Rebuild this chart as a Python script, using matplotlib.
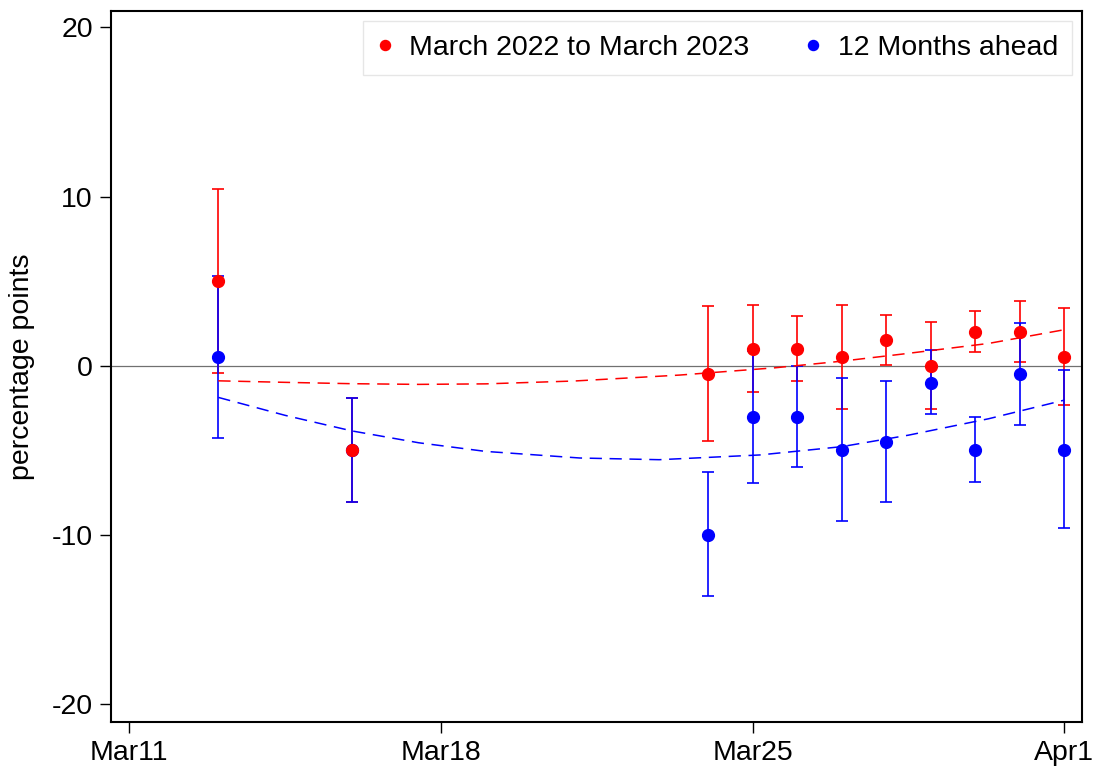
import matplotlib
matplotlib.use("Agg")
import matplotlib.pyplot as plt
import matplotlib.dates as mdates
import numpy as np

plt.rcParams['font.family'] = ['Liberation Sans', 'DejaVu Sans']
plt.rcParams['axes.unicode_minus'] = False

# survey days
dates = np.array(['2022-03-13', '2022-03-16', '2022-03-24', '2022-03-25', '2022-03-26',
                  '2022-03-27', '2022-03-28', '2022-03-29', '2022-03-30', '2022-03-31',
                  '2022-04-01'], dtype='datetime64[D]')

# March 2022 to March 2023 (red)
red_val = [5, -5, -0.5, 1, 1, 0.5, 1.5, 0, 2, 2, 0.5]
red_lo = [-0.4, -8.05, -4.45, -1.55, -0.92, -2.53, 0.02, -2.53, 0.82, 0.25, -2.33]
red_hi = [10.45, -1.9, 3.51, 3.59, 2.96, 3.59, 3.02, 2.59, 3.24, 3.8, 3.39]

# 12 Months ahead (blue)
blue_val = [0.5, -5, -10, -3, -3, -5, -4.5, -1, -5, -0.5, -5]
blue_lo = [-4.25, -8.05, -13.6, -6.9, -5.96, -9.16, -8.03, -2.86, -6.88, -3.49, -9.6]
blue_hi = [5.3, -1.9, -6.3, 0.9, 0.0, -0.73, -0.9, 0.94, -3.02, 2.55, -0.27]

# fitted trend lines (days after Mar 11)
red_fit_day = [2, 3.5, 5, 6.5, 8, 10, 12.36, 14.5, 16, 17.36, 19.3, 21]
red_fit_val = [-0.89, -0.98, -1.06, -1.1, -1.07, -0.9, -0.55, -0.12, 0.27, 0.69, 1.32, 2.13]
blue_fit_day = [2, 3.5, 5, 6.5, 8, 10.12, 11.9, 14.16, 16, 17.5, 19.3, 21]
blue_fit_val = [-1.87, -2.93, -3.85, -4.55, -5.06, -5.45, -5.55, -5.27, -4.78, -4.1, -3.13, -2.03]

start_day = np.datetime64('2022-03-11')
xtick_dates = np.array(['2022-03-11', '2022-03-18', '2022-03-25', '2022-04-01'], dtype='datetime64[D]')
xtick_labels = ['Mar11', 'Mar18', 'Mar25', 'Apr1']
yticks = [-20, -10, 0, 10, 20]

x = mdates.date2num(dates.astype('O'))
xt = mdates.date2num(xtick_dates.astype('O'))
x0 = mdates.date2num(start_day.astype('O'))

fig = plt.figure(figsize=(10.97, 7.69), dpi=100)
ax = fig.add_axes([0.1012, 0.0615, 0.8849, 0.9242])

ax.axhline(0, color='#707070', lw=0.9, zorder=1)

red_err = [np.array(red_val) - np.array(red_lo), np.array(red_hi) - np.array(red_val)]
blue_err = [np.array(blue_val) - np.array(blue_lo), np.array(blue_hi) - np.array(blue_val)]
ax.errorbar(x, red_val, yerr=red_err, fmt='none', ecolor='#ff0000', elinewidth=1.2,
            capsize=4, capthick=1.2, zorder=2)
ax.errorbar(x, blue_val, yerr=blue_err, fmt='none', ecolor='#0000ff', elinewidth=1.2,
            capsize=4, capthick=1.2, zorder=3)

ax.plot(x0 + np.array(red_fit_day), red_fit_val, color='#ff0000', lw=1.1, dashes=(8, 5), zorder=3.5)
ax.plot(x0 + np.array(blue_fit_day), blue_fit_val, color='#0000ff', lw=1.1, dashes=(8, 5), zorder=3.5)

ax.plot(x, blue_val, 'o', color='#0000ff', ms=8.5, zorder=4, label='12 Months ahead')
ax.plot(x, red_val, 'o', color='#ff0000', ms=8.5, zorder=5, label='March 2022 to March 2023')

ax.set_xlim(xt[0] - 0.41, xt[-1] + 0.39)
ax.set_ylim(-21.03, 20.96)
ax.set_xticks(xt)
ax.set_xticklabels(xtick_labels)
ax.set_yticks(yticks)
ax.tick_params(labelsize=20.5, length=8, width=1, pad=5)
for s in ax.spines.values():
    s.set_linewidth(1.5)
ax.set_ylabel('percentage points', fontsize=20.5, labelpad=12)

h, l = ax.get_legend_handles_labels()
leg = ax.legend(h[::-1], l[::-1], loc='upper right', bbox_to_anchor=(0.99, 0.986), ncol=2,
                fontsize=20.5, handlelength=0.5, handletextpad=0.6, columnspacing=2.0,
                markerscale=0.85, fancybox=False, framealpha=1, edgecolor='#e6e6e6',
                borderpad=0.5, borderaxespad=0)
leg.get_frame().set_linewidth(1.0)

fig.savefig('out.png', dpi=100)
